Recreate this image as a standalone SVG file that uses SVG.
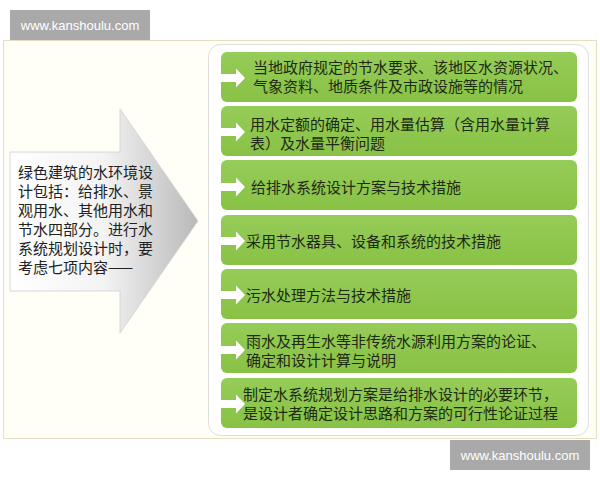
<svg xmlns="http://www.w3.org/2000/svg" width="600" height="480" viewBox="0 0 600 480">
<defs>
<linearGradient id="bigArrow" x1="0" y1="0" x2="1" y2="0">
<stop offset="0" stop-color="#ffffff"/>
<stop offset="0.5" stop-color="#f3f3f3"/>
<stop offset="1" stop-color="#b9b9b9"/>
</linearGradient>
<linearGradient id="green" x1="0" y1="0" x2="0" y2="1">
<stop offset="0" stop-color="#96cc58"/>
<stop offset="1" stop-color="#88c245"/>
</linearGradient>
<path id="wArrow" d="M-4,-4 H12 V-9.5 L21,0 L12,9.5 V4 H-4 Z" fill="#ffffff"/>
</defs>
<style>
.wm{fill:#a9a9a9}
.wmt{font-family:"Liberation Sans",Arial,sans-serif;font-size:13px;fill:#ffffff}
.box{fill:url(#green)}
.bt{font-family:"Noto Sans CJK SC","Noto Sans CJK TC",sans-serif;font-size:15px;fill:#1e2a14}
.at{font-family:"Noto Sans CJK SC","Noto Sans CJK TC",sans-serif;font-size:15px;fill:#222222}
</style>
<rect x="0" y="0" width="600" height="480" fill="#ffffff"/>
<rect x="3.5" y="40.5" width="593" height="398" fill="#fffff8" stroke="#e6dfbf" stroke-width="1"/>
<g id="watermark-top"><rect class="wm" x="10" y="10" width="140" height="30"/><text class="wmt" x="80" y="30" text-anchor="middle">www.kanshoulu.com</text></g>
<g id="watermark-bottom"><rect class="wm" x="450" y="440" width="140" height="30"/><text class="wmt" x="520" y="460" text-anchor="middle">www.kanshoulu.com</text></g>
<g id="intro">
<path d="M10,152 H120 V109 L198,221 L120,333 V291 H10 Z" fill="url(#bigArrow)" stroke="#d6d6d6" stroke-width="1"/>
<text class="at"><tspan x="18" y="178">绿色建筑的水环境设</tspan><tspan x="18" y="197">计包括：给排水、景</tspan><tspan x="18" y="216">观用水、其他用水和</tspan><tspan x="18" y="235">节水四部分。进行水</tspan><tspan x="18" y="254">系统规划设计时，要</tspan><tspan x="18" y="273">考虑七项内容——</tspan></text>
</g>
<rect x="208.5" y="44.5" width="380" height="391" rx="12" fill="#ffffff" stroke="#dedede" stroke-width="1"/>
<g id="item1"><rect class="box" x="221" y="52" width="356" height="50" rx="6"/><use href="#wArrow" x="224" y="78"/>
<text class="bt"><tspan x="253" y="73">当地政府规定的节水要求、该地区水资源状况、</tspan><tspan x="253" y="92">气象资料、地质条件及市政设施等的情况</tspan></text></g>
<g id="item2"><rect class="box" x="221" y="106" width="356" height="50" rx="6"/><use href="#wArrow" x="224" y="132"/>
<text class="bt"><tspan x="250" y="130">用水定额的确定、用水量估算（含用水量计算</tspan><tspan x="250" y="149">表）及水量平衡问题</tspan></text></g>
<g id="item3"><rect class="box" x="221" y="160" width="356" height="50" rx="6"/><use href="#wArrow" x="224" y="187"/>
<text class="bt" x="251" y="193">给排水系统设计方案与技术措施</text></g>
<g id="item4"><rect class="box" x="221" y="215" width="356" height="50" rx="6"/><use href="#wArrow" x="224" y="241"/>
<text class="bt" x="246" y="247">采用节水器具、设备和系统的技术措施</text></g>
<g id="item5"><rect class="box" x="221" y="269" width="356" height="50" rx="6"/><use href="#wArrow" x="224" y="295"/>
<text class="bt" x="246" y="301">污水处理方法与技术措施</text></g>
<g id="item6"><rect class="box" x="221" y="323" width="356" height="50" rx="6"/><use href="#wArrow" x="224" y="350"/>
<text class="bt"><tspan x="246" y="347">雨水及再生水等非传统水源利用方案的论证、</tspan><tspan x="246" y="366">确定和设计计算与说明</tspan></text></g>
<g id="item7"><rect class="box" x="221" y="378" width="356" height="50" rx="6"/><use href="#wArrow" x="224" y="404"/>
<text class="bt"><tspan x="243" y="400">制定水系统规划方案是给排水设计的必要环节，</tspan><tspan x="243" y="419">是设计者确定设计思路和方案的可行性论证过程</tspan></text></g>
</svg>
